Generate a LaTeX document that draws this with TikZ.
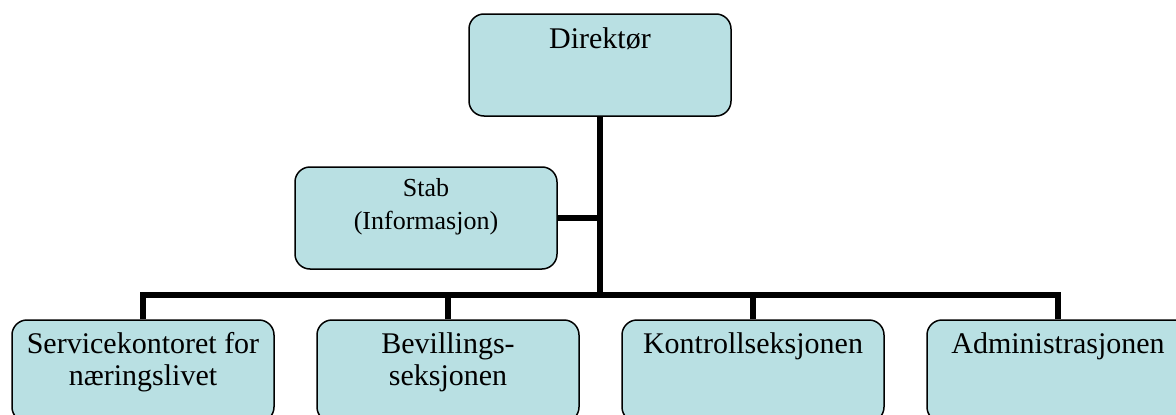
\documentclass[tikz,border=0pt]{standalone}
\usepackage{fontspec}
\setmainfont{Liberation Serif}
\definecolor{boxfill}{RGB}{185,224,227}
\tikzset{
  unit/.style={draw=black, fill=boxfill, line width=1.5pt, rounded corners=15pt,
    minimum width=262pt, minimum height=102pt, inner sep=0pt},
  bigtxt/.style={inner sep=0pt, align=center, anchor=base, font=\fontsize{30}{32}\selectfont},
  smalltxt/.style={inner sep=0pt, align=center, anchor=base, font=\fontsize{26}{33}\selectfont},
  conn/.style={black, line width=6pt}
}
\begin{document}
\begin{tikzpicture}[x=1pt,y=1pt]
    \useasboundingbox (0,0) rectangle (1176,-415);
    \clip (0,0) rectangle (1176,-415);
    % connectors
    \coordinate (bus) at (600,-295);
    \node[unit] (dir) at (600,-65) {};
    \node[unit] (stab) at (426,-218) {};
    \node[unit] (svc) at (143,-371) {};
    \node[unit] (bev) at (448,-371) {};
    \node[unit] (kon) at (753,-371) {};
    \node[unit] (adm) at (1058,-371) {};
    \draw [conn] (dir.south) -- (bus);
    \draw [conn] (stab.east) -- (stab.east -| bus);
    \foreach \u in {svc,bev,kon,adm}
        \draw [conn] (\u.north) |- (bus);
    % texts (base = last line)
    \node[bigtxt] (dirtxt) at ([yshift=-35pt]dir.north) {Direktør};
    \node[smalltxt] (stabtxt) at ([yshift=-63pt]stab.north) {Stab\\(Informasjon)};
    \node[bigtxt] (svctxt) at ([yshift=-66pt]svc.north) {Servicekontoret for\\næringslivet};
    \node[bigtxt] (bevtxt) at ([yshift=-66pt]bev.north) {Bevillings-\\seksjonen};
    \node[bigtxt] (kontxt) at ([yshift=-34pt]kon.north) {Kontrollseksjonen};
    \node[bigtxt] (admtxt) at ([yshift=-34pt]adm.north) {Administrasjonen};
\end{tikzpicture}
\end{document}
